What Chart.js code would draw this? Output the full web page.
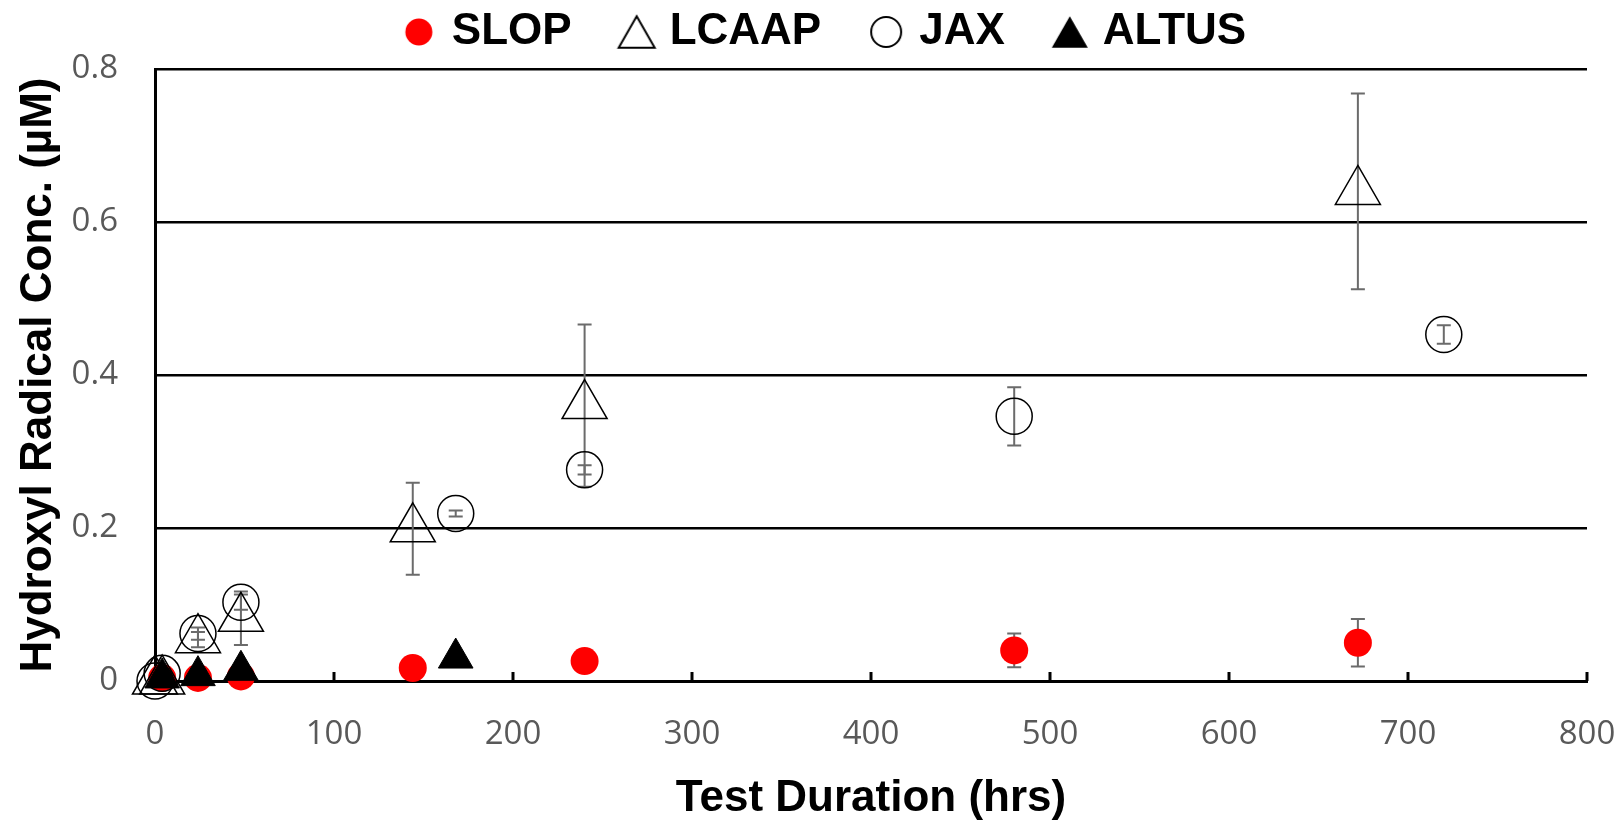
<!DOCTYPE html>
<html>
<head>
<meta charset="utf-8">
<script src="https://cdn.jsdelivr.net/npm/chart.js@4.4.1/dist/chart.umd.min.js"></script>
<style>
  html, body { margin: 0; padding: 0; background: #fff; overflow: hidden; }
  #wrap { width: 1624px; height: 823px; }
</style>
</head>
<body>
<div id="wrap"><canvas id="radicalChart"></canvas></div>
<script>
var slopHours = [4, 24, 48, 144, 240, 480, 672];
var slopConc = [0.004, 0.004, 0.006, 0.017, 0.026, 0.040, 0.050];
var slopErr = [0.002, 0.002, 0.002, 0.003, 0.003, 0.022, 0.031];

var lcaapHours = [0, 4, 24, 48, 144, 240, 672];
var lcaapConc = [0.0, 0.0, 0.054, 0.082, 0.199, 0.360, 0.640];
var lcaapErr = [0, 0, 0.01, 0.035, 0.06, 0.106, 0.128];

var jaxHours = [0, 4, 24, 48, 168, 240, 480, 720];
var jaxConc = [0.0, 0.01, 0.062, 0.103, 0.219, 0.276, 0.346, 0.453];
var jaxErr = [0, 0, 0.008, 0.01, 0.004, 0.006, 0.038, 0.012];

var altusHours = [4, 24, 48, 168];
var altusConc = [0.004, 0.007, 0.014, 0.03];
var altusErr = [0, 0, 0, 0];

function points(xs, ys) {
  return xs.map((x, i) => ({ x: x, y: ys[i] }));
}

// legend symbol images, sized like the original legend
function marker(shape, size, fill, stroke) {
  var c = document.createElement("canvas");
  c.width = 42;
  c.height = 42;
  var g = c.getContext("2d");
  g.beginPath();
  if (shape === "circle") {
    g.arc(21, 21, size / 2, 0, Math.PI * 2);
  } else {
    var h = size * 0.87;
    g.moveTo(21, 21 - h / 2);
    g.lineTo(21 + size / 2, 21 + h / 2);
    g.lineTo(21 - size / 2, 21 + h / 2);
    g.closePath();
  }
  if (fill) {
    g.fillStyle = fill;
    g.fill();
  }
  if (stroke) {
    g.strokeStyle = stroke;
    g.lineWidth = 2;
    g.stroke();
  }
  return c;
}

var legendMarks = [
  marker("circle", 27, "#ff0000", null),
  marker("triangle", 36, null, "#000"),
  marker("circle", 30, null, "#000"),
  marker("triangle", 36, "#000", null),
];

// error bars drawn under the markers
var errorBars = {
  id: "errorBars",
  beforeDatasetsDraw: function (chart) {
    var ctx = chart.ctx;
    var xs = chart.scales.x;
    var ys = chart.scales.y;
    ctx.save();
    ctx.strokeStyle = "#6b6b6b";
    ctx.lineWidth = 2;
    chart.data.datasets.forEach(function (ds) {
      ds.data.forEach(function (p, j) {
        var e = ds.errors[j];
        if (!e) return;
        var px = xs.getPixelForValue(p.x);
        var top = ys.getPixelForValue(p.y + e);
        var bot = ys.getPixelForValue(p.y - e);
        ctx.beginPath();
        ctx.moveTo(px, top);
        ctx.lineTo(px, bot);
        ctx.moveTo(px - 7, top);
        ctx.lineTo(px + 7, top);
        ctx.moveTo(px - 7, bot);
        ctx.lineTo(px + 7, bot);
        ctx.stroke();
      });
    });
    ctx.restore();
  },
};

// small tick marks pointing up from the x axis
var innerTicks = {
  id: "innerTicks",
  afterDraw: function (chart) {
    var ctx = chart.ctx;
    var xs = chart.scales.x;
    var bottom = chart.chartArea.bottom;
    ctx.save();
    ctx.strokeStyle = "#000";
    ctx.lineWidth = 3;
    xs.ticks.forEach(function (t) {
      var px = xs.getPixelForValue(t.value);
      ctx.beginPath();
      ctx.moveTo(px, bottom);
      ctx.lineTo(px, bottom - 9);
      ctx.stroke();
    });
    ctx.restore();
  },
};

var legendGap = {
  id: "legendGap",
  beforeInit: function (chart) {
    var fit = chart.legend.fit;
    chart.legend.fit = function () {
      fit.bind(chart.legend)();
      this.height += 5;
    };
  },
};

var ctx = document.getElementById("radicalChart").getContext("2d");

var chart = new Chart(ctx, {
  type: "scatter",
  data: {
    datasets: [
      {
        label: "SLOP",
        data: points(slopHours, slopConc),
        errors: slopErr,
        pointStyle: "circle",
        pointRadius: 14,
        backgroundColor: "#ff0000",
        borderColor: "#ff0000",
        borderWidth: 0,
        order: 4,
        clip: false,
      },
      {
        label: "LCAAP",
        data: points(lcaapHours, lcaapConc),
        errors: lcaapErr,
        pointStyle: "triangle",
        pointRadius: 26,
        backgroundColor: "rgba(255,255,255,0)",
        borderColor: "#000",
        borderWidth: 1.5,
        order: 3,
        clip: false,
      },
      {
        label: "JAX",
        data: points(jaxHours, jaxConc),
        errors: jaxErr,
        pointStyle: "circle",
        pointRadius: 18,
        backgroundColor: "rgba(255,255,255,0)",
        borderColor: "#000",
        borderWidth: 1.5,
        order: 2,
        clip: false,
      },
      {
        label: "ALTUS",
        data: points(altusHours, altusConc),
        errors: altusErr,
        pointStyle: "triangle",
        pointRadius: 20,
        backgroundColor: "#000",
        borderColor: "#000",
        borderWidth: 1,
        order: 1,
        clip: false,
      },
    ],
  },
  options: {
    responsive: true,
    maintainAspectRatio: false,
    animation: false,
    events: [],
    layout: {
      padding: { top: 0, left: 8, right: 37, bottom: 0 },
    },
    plugins: {
      tooltip: { enabled: false },
      legend: {
        position: "top",
        fullSize: false,
        labels: {
          usePointStyle: true,
          boxWidth: 22,
          boxHeight: 22,
          padding: 10,
          color: "#000",
          font: { family: "Liberation Sans", size: 44, weight: "bold" },
          generateLabels: function (chart) {
            var items = Chart.defaults.plugins.legend.labels.generateLabels(chart);
            items.sort((a, b) => a.datasetIndex - b.datasetIndex);
            items.forEach(function (it, i) {
              it.pointStyle = legendMarks[i];
              it.text = it.text + (i < items.length - 1 ? "\u2003" : "\u2003\u2003");
            });
            return items;
          },
        },
      },
    },
    scales: {
      x: {
        type: "linear",
        min: 0,
        max: 800,
        afterFit: (s) => { s.height = 142; },
        ticks: {
          stepSize: 100,
          padding: 0,
          color: "#595959",
          font: { family: "Open Sans", size: 33 },
        },
        grid: {
          drawOnChartArea: false,
          drawTicks: true,
          tickLength: 34,
          tickColor: "rgba(0,0,0,0)",
        },
        border: { display: true, color: "#000", width: 3 },
        title: {
          display: true,
          text: "Test Duration (hrs)",
          color: "#000",
          padding: { top: 0, bottom: -2 },
          font: { family: "Liberation Sans", size: 44, weight: "bold" },
        },
      },
      y: {
        min: 0,
        max: 0.8,
        afterFit: (s) => { s.width = 147; },
        ticks: {
          stepSize: 0.2,
          padding: 37,
          color: "#595959",
          font: { family: "Open Sans", size: 33 },
        },
        grid: { color: "#000", lineWidth: 2.5, drawTicks: false },
        border: { display: true, color: "#000", width: 3 },
        title: {
          display: true,
          text: "Hydroxyl Radical Conc. (µM)",
          color: "#000",
          padding: { top: 4, bottom: 0 },
          font: { family: "Liberation Sans", size: 44, weight: "bold" },
        },
      },
    },
  },
  plugins: [errorBars, innerTicks, legendGap],
});
</script>
</body>
</html>
